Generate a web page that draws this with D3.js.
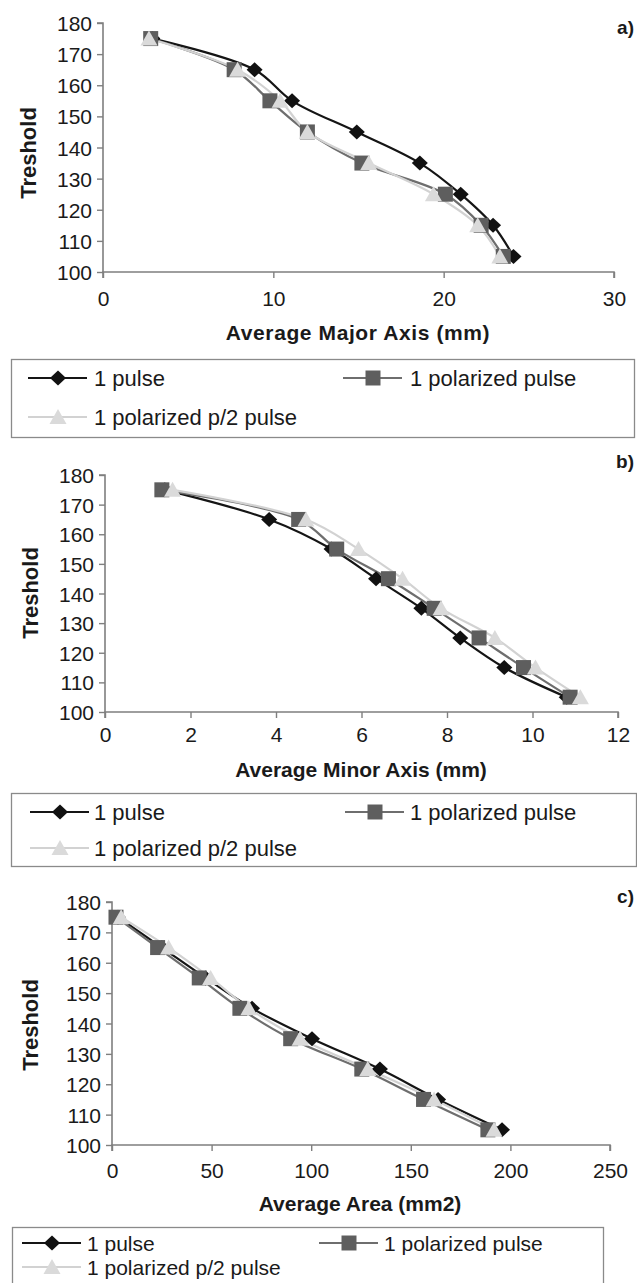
<!DOCTYPE html>
<html><head><meta charset="utf-8">
<script src="https://cdn.jsdelivr.net/npm/d3@7"></script>
<style>
html,body{margin:0;padding:0;background:#fff;}
svg{display:block;}
text{font-family:"Liberation Sans",Arial,sans-serif;fill:#1a1a1a;}
</style></head>
<body>
<svg id="c" width="637" height="1283"></svg>
<script>
// ---- data ----
const thresholds = [175, 165, 155, 145, 135, 125, 115, 105];
const seriesNames = ["1 pulse", "1 polarized pulse", "1 polarized p/2 pulse"];
const yTicks = [100, 110, 120, 130, 140, 150, 160, 170, 180];

const majorPulse     = [2.9, 8.9, 11.1, 14.9, 18.6, 21.0, 22.9, 24.1];
const majorPolarized = [2.8, 7.7, 9.8, 12.0, 15.2, 20.1, 22.2, 23.5];
const majorP2        = [2.7, 7.9, 10.4, 12.0, 15.6, 19.4, 22.0, 23.3];
const majorTicks = [0, 10, 20, 30];

const minorPulse     = [1.4, 3.84, 5.3, 6.34, 7.4, 8.31, 9.34, 10.8];
const minorPolarized = [1.33, 4.53, 5.42, 6.63, 7.7, 8.75, 9.79, 10.88];
const minorP2        = [1.58, 4.7, 5.93, 6.96, 7.86, 9.12, 10.07, 11.12];
const minorTicks = [0, 2, 4, 6, 8, 10, 12];

const areaPulse     = [3, 25, 47, 70.3, 100.4, 134.5, 163.7, 195.8];
const areaPolarized = [2, 22.9, 43.8, 64.2, 89.7, 125.4, 156.4, 188.7];
const areaP2        = [4.6, 28.4, 49.5, 68.7, 94.4, 128.4, 161.7, 191.8];
const areaTicks = [0, 50, 100, 150, 200, 250];

// ---- styles ----
const lineColors = ["#151515", "#6e6e6e", "#d2d2d2"];
const markColors = ["#111111", "#5e5e5e", "#dadada"];
const markerPaths = [
  "M0,-7.5L8,0L0,7.5L-8,0Z",
  "M-7.5,-7.5H7.5V7.5H-7.5Z",
  "M0,-8L8.5,7L-8.5,7Z"
];

const svg = d3.select("#c");
const axisColor = "#7f7f7f";

const panels = [
  {label:"a)", xTitle:"Average Major Axis (mm)", ticks:majorTicks, xmax:30,
   data:[majorPulse, majorPolarized, majorP2],
   x0:103, x1:614, yTop:23, yBot:272, tickFs:21, xLabY:306, xTitleY:340, xTitleX:358, yTitleX:28, yTitleY:153,
   labelY:34, titleSpacing:"0.6px", legFs:22,
   legend:{x0:11, x1:635, y0:359, y1:438, r1:378, r2:417, lx:28, lx2:343, tx:94, tx2:410}},
  {label:"b)", xTitle:"Average Minor Axis (mm)", ticks:minorTicks, xmax:12,
   data:[minorPulse, minorPolarized, minorP2],
   x0:105, x1:618, yTop:475, yBot:712, tickFs:21, xLabY:742, xTitleY:777, xTitleX:361, yTitleX:30, yTitleY:593,
   labelY:468, titleSpacing:"0px", legFs:22,
   legend:{x0:11, x1:637, y0:793, y1:867, r1:812, r2:848, lx:30, lx2:345, tx:94, tx2:410}},
  {label:"c)", xTitle:"Average Area (mm2)", ticks:areaTicks, xmax:250,
   data:[areaPulse, areaPolarized, areaP2],
   x0:112, x1:610, yTop:902, yBot:1145, tickFs:21, xLabY:1178, xTitleY:1211, xTitleX:360, yTitleX:30, yTitleY:1025,
   labelY:903, titleSpacing:"0px", legFs:21,
   legend:{x0:12, x1:604, y0:1227, y1:1300, r1:1243, r2:1267, lx:22, lx2:319, tx:87, tx2:384}}
];

panels.forEach(p => {
  const g = svg.append("g");
  const x = d3.scaleLinear().domain([0, p.xmax]).range([p.x0, p.x1]);
  const y = d3.scaleLinear().domain([100, 180]).range([p.yBot, p.yTop]);

  // axes
  const xa = g.append("g").attr("transform", `translate(0,${p.yBot})`)
    .call(d3.axisBottom(x).tickValues(p.ticks).tickSize(6).tickPadding(8).tickFormat(d3.format("d")));
  const ya = g.append("g").attr("transform", `translate(${p.x0},0)`)
    .call(d3.axisLeft(y).tickValues(yTicks).tickSize(6).tickPadding(5).tickFormat(d3.format("d")));
  [xa, ya].forEach(a => {
    a.select(".domain").attr("stroke", axisColor).attr("stroke-width", 1.6);
    a.selectAll(".tick line").attr("stroke", axisColor).attr("stroke-width", 1.4);
    a.selectAll(".tick text").attr("font-size", p.tickFs).attr("fill", "#1a1a1a")
      .style("font-family", "'Liberation Sans', Arial, sans-serif");
  });
  xa.select(".domain").attr("d", `M${p.x0},6V0H${p.x1}V6`);
  ya.select(".domain").attr("d", `M-6,${p.yTop}H0V${p.yBot}`);
  xa.selectAll(".tick text").attr("dy", null).attr("y", p.xLabY - p.yBot);
  ya.selectAll(".tick text").attr("dy", "0.36em");

  // titles
  g.append("text").attr("x", p.xTitleX).attr("y", p.xTitleY).attr("text-anchor", "middle")
    .attr("font-size", 21).attr("font-weight", "bold").style("letter-spacing", p.titleSpacing).text(p.xTitle);
  g.append("text").attr("transform", `translate(${p.yTitleX + 8},${p.yTitleY}) rotate(-90)`)
    .attr("text-anchor", "middle").attr("font-size", 22).attr("font-weight", "bold").text("Treshold");
  g.append("text").attr("x", 634).attr("y", p.labelY).attr("text-anchor", "end")
    .attr("font-size", 19).attr("font-weight", "bold").text(p.label);

  // series
  const line = d3.line().curve(d3.curveCatmullRom.alpha(0.5))
    .x(d => x(d[0])).y(d => y(d[1]));
  p.data.forEach((vals, i) => {
    const pts = vals.map((v, k) => [v, thresholds[k]]);
    g.append("path").datum(pts).attr("d", line).attr("fill", "none")
      .attr("stroke", lineColors[i]).attr("stroke-width", 2.2);
  });
  p.data.forEach((vals, i) => {
    g.selectAll(null).data(vals.map((v, k) => [v, thresholds[k]])).enter().append("path")
      .attr("d", markerPaths[i]).attr("fill", markColors[i])
      .attr("transform", d => `translate(${x(d[0])},${y(d[1])})`);
  });

  // legend
  const L = p.legend;
  g.append("rect").attr("x", L.x0 + 0.5).attr("y", L.y0 + 0.5)
    .attr("width", L.x1 - L.x0 - 1).attr("height", L.y1 - L.y0 - 1)
    .attr("fill", "none").attr("stroke", "#8a8a8a").attr("stroke-width", 1.3);
  const items = [
    {lx:L.lx, tx:L.tx, y:L.r1},
    {lx:L.lx2, tx:L.tx2, y:L.r1},
    {lx:L.lx, tx:L.tx, y:L.r2}
  ];
  items.forEach((it, i) => {
    g.append("line").attr("x1", it.lx).attr("x2", it.lx + 59).attr("y1", it.y).attr("y2", it.y)
      .attr("stroke", lineColors[i]).attr("stroke-width", 2.2);
    g.append("path").attr("d", markerPaths[i]).attr("fill", markColors[i])
      .attr("transform", `translate(${it.lx + 30},${it.y})`);
    g.append("text").attr("x", it.tx).attr("y", it.y).attr("dy", "0.36em")
      .attr("font-size", p.legFs).text(seriesNames[i]);
  });
});
</script>
</body></html>
